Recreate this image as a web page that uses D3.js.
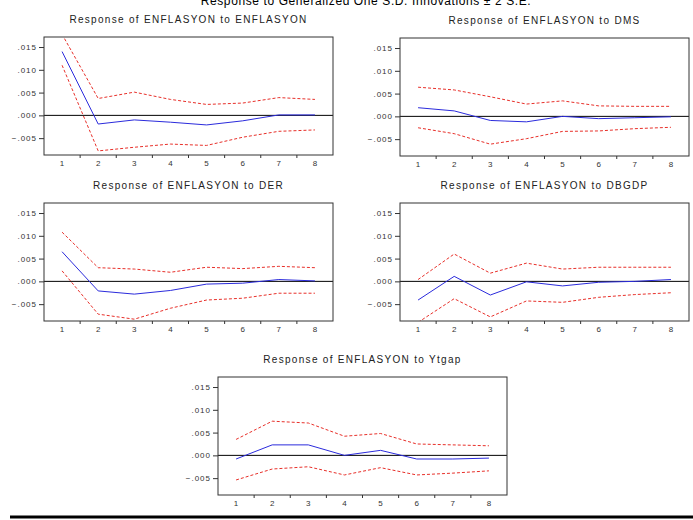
<!DOCTYPE html>
<html>
<head>
<meta charset="utf-8">
<script src="https://cdn.jsdelivr.net/npm/d3@7"></script>
<style>
  body { margin: 0; background: #fff; }
  svg { display: block; font-family: "Liberation Sans", Arial, sans-serif; }
</style>
</head>
<body>
<div id="chart"></div>
<script>
// periods and y tick labels
const periods = [1, 2, 3, 4, 5, 6, 7, 8];
const yTicks = [-0.005, 0, 0.005, 0.010, 0.015];

// Response of ENFLASYON to ENFLASYON
const enfResp = [0.0140, -0.0019, -0.0010, -0.0015, -0.0021, -0.0012, 0.0001, 0.0001];
const enfUp   = [0.0178, 0.0037, 0.0051, 0.0035, 0.0024, 0.0027, 0.0039, 0.0035];
const enfLo   = [0.0110, -0.0078, -0.0070, -0.0063, -0.0066, -0.0048, -0.0035, -0.0032];

// Response of ENFLASYON to DMS
const dmsResp = [0.0019, 0.0012, -0.0009, -0.0012, 0.0000, -0.0005, -0.0003, -0.0001];
const dmsUp   = [0.0064, 0.0058, 0.0043, 0.0027, 0.0034, 0.0023, 0.0022, 0.0022];
const dmsLo   = [-0.0025, -0.0038, -0.0061, -0.0049, -0.0033, -0.0032, -0.0027, -0.0024];

// Response of ENFLASYON to DER
const derResp = [0.0065, -0.0021, -0.0028, -0.0020, -0.0006, -0.0004, 0.0004, 0.0001];
const derUp   = [0.0108, 0.0030, 0.0027, 0.0020, 0.0031, 0.0028, 0.0033, 0.0030];
const derLo   = [0.0023, -0.0072, -0.0083, -0.0059, -0.0041, -0.0037, -0.0026, -0.0026];

// Response of ENFLASYON to DBGDP
const dbgResp = [-0.0041, 0.0011, -0.0030, -0.0001, -0.0010, -0.0002, 0.0000, 0.0004];
const dbgUp   = [0.0004, 0.0060, 0.0018, 0.0040, 0.0027, 0.0031, 0.0031, 0.0031];
const dbgLo   = [-0.0090, -0.0038, -0.0078, -0.0043, -0.0046, -0.0035, -0.0029, -0.0025];

// Response of ENFLASYON to Ytgap
const ytgResp = [-0.0008, 0.0023, 0.0023, 0.0000, 0.0011, -0.0008, -0.0008, -0.0006];
const ytgUp   = [0.0035, 0.0075, 0.0071, 0.0042, 0.0048, 0.0025, 0.0023, 0.0021];
const ytgLo   = [-0.0054, -0.0030, -0.0025, -0.0043, -0.0027, -0.0043, -0.0039, -0.0034];

const W = 693, H = 520;
const pw = 289, ph = 118;

const panels = [
  { title: "Response of ENFLASYON to ENFLASYON", x: 44, y: 37, resp: enfResp, up: enfUp, lo: enfLo },
  { title: "Response of ENFLASYON to DMS", x: 400, y: 38, resp: dmsResp, up: dmsUp, lo: dmsLo },
  { title: "Response of ENFLASYON to DER", x: 44, y: 203, resp: derResp, up: derUp, lo: derLo },
  { title: "Response of ENFLASYON to DBGDP", x: 400, y: 203, resp: dbgResp, up: dbgUp, lo: dbgLo },
  { title: "Response of ENFLASYON to Ytgap", x: 218, y: 377, resp: ytgResp, up: ytgUp, lo: ytgLo }
];

const svg = d3.select("#chart")
  .append("svg")
  .attr("width", W)
  .attr("height", H);

// main title (top partly cut off, as in the original)
svg.append("text")
  .attr("x", 366)
  .attr("y", 5)
  .attr("text-anchor", "middle")
  .style("font-size", "12px")
  .style("letter-spacing", "0.6px")
  .text("Response to Generalized One S.D. Innovations \u00b1 2 S.E.");

const x = d3.scaleBand().domain(periods).range([0, pw]);
const y = d3.scaleLinear().domain([-0.0087, 0.0172]).range([ph, 0]);

const fmt = v => v === 0 ? ".000" : d3.format(".3f")(v).replace("0.", ".");

const line = d3.line()
  .x((d, i) => x(periods[i]) + x.bandwidth() / 2)
  .y(d => y(d));

panels.forEach((p, k) => {
  const g = svg.append("g").attr("transform", `translate(${p.x},${p.y})`);

  g.append("text")
    .attr("x", pw / 2)
    .attr("y", -14)
    .attr("text-anchor", "middle")
    .style("font-size", "10px")
    .style("letter-spacing", "1.3px")
    .attr("fill", "#222")
    .text(p.title);

  g.append("clipPath").attr("id", "clip" + k)
    .append("rect").attr("width", pw).attr("height", ph);

  // y axis
  const ya = g.append("g")
    .call(d3.axisLeft(y).tickValues(yTicks).tickFormat(fmt).tickSize(5).tickPadding(2));
  ya.select(".domain").remove();
  ya.selectAll("text").style("font-size", "8px").style("letter-spacing", "1px").attr("fill", "#333");
  ya.selectAll("line").attr("stroke", "#333");

  // x axis: ticks at band edges, labels at centres
  const xa = g.append("g").attr("transform", `translate(0,${ph})`);
  xa.selectAll("line")
    .data(periods.slice(1))
    .join("line")
    .attr("x1", d => x(d)).attr("x2", d => x(d))
    .attr("y1", 0).attr("y2", 3)
    .attr("stroke", "#333");
  xa.selectAll("text")
    .data(periods)
    .join("text")
    .attr("x", d => x(d) + x.bandwidth() / 2)
    .attr("y", 11)
    .attr("text-anchor", "middle")
    .style("font-size", "8px")
    .attr("fill", "#333")
    .text(d => d);

  // zero line
  g.append("line")
    .attr("x1", 0).attr("x2", pw)
    .attr("y1", y(0)).attr("y2", y(0))
    .attr("stroke", "#000").attr("stroke-width", 1);

  const lines = g.append("g").attr("clip-path", `url(#clip${k})`);
  [p.up, p.lo].forEach(s => {
    lines.append("path")
      .attr("d", line(s))
      .attr("fill", "none")
      .attr("stroke", "#e8302a")
      .attr("stroke-width", 1)
      .attr("stroke-dasharray", "3,2");
  });
  lines.append("path")
    .attr("d", line(p.resp))
    .attr("fill", "none")
    .attr("stroke", "#2b2bdc")
    .attr("stroke-width", 1);

  // frame
  g.append("rect")
    .attr("width", pw).attr("height", ph)
    .attr("fill", "none")
    .attr("stroke", "#333")
    .attr("stroke-width", 1);
});

// heavy rule at the bottom
svg.append("line")
  .attr("x1", 10).attr("x2", W)
  .attr("y1", 517).attr("y2", 517)
  .attr("stroke", "#000")
  .attr("stroke-width", 3);
</script>
</body>
</html>
